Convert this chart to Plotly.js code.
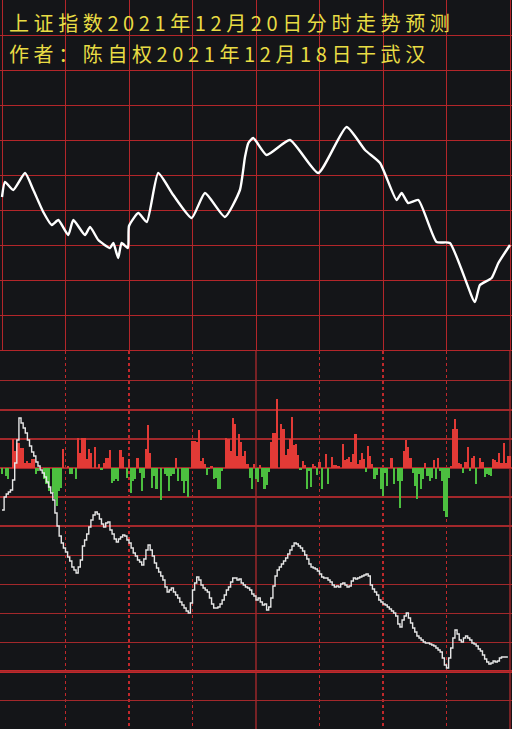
<!DOCTYPE html>
<html><head><meta charset="utf-8">
<script src="https://cdn.plot.ly/plotly-3.0.1.min.js"></script>
<style>html,body{margin:0;padding:0;background:#141518;}#chart{width:512px;height:729px;}</style>
</head><body><div id="chart"></div>
<script>
// ---- text ----
const titleLine1 = "上证指数2021年12月20日分时走势预测";
const titleLine2 = "作者：陈自权2021年12月18日于武汉";

// ---- time axis (trading minutes 0..240) ----
const timeTicks = [0, 30, 60, 90, 120, 150, 180, 210, 240];
const halfHourMarks = [30, 60, 90, 150, 180, 210];

// ---- upper panel: forecast price curve (minute, level) ----
const forecastMinutes = [0, 1.4, 5.3, 10.9, 14.8, 19.5, 23.5, 26.6, 31.3, 33.7, 39.2, 41.6, 45.5, 51, 52.6, 54.9, 56.5, 59.5, 60,
  64.4, 68.4, 73.8, 80.9, 89.6, 95.9, 105.3, 112.4, 114.8, 116.4, 118.7, 125, 136, 149.4, 162.8, 171.5, 178.6,
  186.4, 188.8, 191.9, 196.7, 205.3, 211.6, 223.4, 225.8, 231.3, 234.5, 240];
const forecastValues = [154, 169, 161, 178, 161, 139, 126, 131, 116, 131, 116, 124, 111, 103, 108, 93, 108, 103, 125,
  138, 129, 178, 156, 133, 158, 134, 161, 194, 208, 213, 196, 211, 178, 224, 201, 188,
  151, 158, 148, 151, 109, 108, 49, 66, 73, 88, 106];

// ---- lower panel: cumulative flow line, one value per minute ----
const flowValues = [-42,-29,-26,-24,-22,-12,5,28,50,45,
  40,35,28,22,16,12,6,2,-2,-5,
  -9,-14,-19,-25,-32,-45,-58,-68,-75,-80,
  -84,-89,-93,-99,-102,-105,-99,-92,-78,-72,
  -66,-59,-52,-47,-44,-46,-51,-56,-59,-55,
  -54,-62,-66,-71,-74,-71,-69,-67,-68,-72,
  -75,-80,-85,-88,-92,-94,-97,-91,-82,-77,
  -82,-88,-95,-100,-104,-108,-112,-119,-124,-122,
  -120,-124,-127,-130,-134,-137,-140,-143,-145,-135,
  -122,-115,-109,-112,-117,-120,-122,-124,-130,-136,
  -140,-140,-139,-136,-132,-127,-122,-119,-114,-110,
  -110,-112,-111,-115,-117,-119,-120,-122,-126,-128,
  -132,-130,-134,-137,-136,-142,-139,-130,-118,-108,
  -102,-99,-96,-93,-90,-86,-82,-78,-75,-76,
  -78,-80,-83,-87,-91,-96,-99,-100,-101,-103,
  -106,-109,-110,-110,-112,-114,-117,-119,-118,-119,
  -116,-115,-117,-119,-118,-113,-110,-111,-110,-109,
  -108,-107,-106,-108,-117,-121,-124,-127,-132,-134,
  -136,-137,-139,-141,-143,-145,-148,-156,-159,-152,
  -148,-145,-150,-155,-160,-164,-168,-170,-172,-174,
  -175,-175,-176,-177,-178,-180,-182,-184,-190,-197,
  -200,-190,-180,-170,-162,-166,-172,-174,-170,-168,
  -170,-172,-175,-176,-178,-181,-183,-187,-191,-194,
  -196,-195,-193,-194,-193,-190,-189,-189,-189,-189];

// ---- lower panel: buy/sell bars (minute, value) ----
const barMinutes = [0,2,3,5,6,7,8,9,10,11,12,13,14,15,16,17,20,21,22,24,25,26,27,28,29,31,32,33,35,36,37,38,39,40,41,42,44,46,47,48,49,50,51,52,53,54,55,56,57,59,
  60,61,62,63,64,65,66,67,68,69,70,71,72,73,75,77,78,79,80,81,82,83,85,86,87,88,90,91,92,93,94,95,96,97,98,99,100,101,102,103,104,106,107,108,109,110,111,112,113,114,115,116,117,118,119,120,
  121,122,123,124,125,126,127,128,129,130,132,133,134,135,136,137,138,139,140,141,142,143,144,145,146,147,148,149,150,151,153,154,156,157,158,159,161,162,163,164,165,166,167,168,169,170,171,172,173,174,175,176,177,179,180,181,
  182,184,185,187,188,189,190,191,192,193,194,195,196,197,198,199,200,201,202,203,204,205,206,207,208,209,210,211,212,213,214,215,216,217,218,219,220,221,222,223,224,226,227,228,229,230,231,232,233,234,235,236,237,238,239,240];
const barValues = [-6,-8,-11,29,17,25,25,20,20,5,7,5,9,9,-6,-3,-11,-16,-23,-25,-31,-38,-23,-20,19,2,-6,-6,-11,30,15,30,30,9,19,15,21,4,-2,5,10,10,18,-15,-13,-11,-13,18,11,-10,
  9,-25,-13,-11,10,-5,-23,-10,19,43,15,-20,-8,-21,-32,-6,-8,-23,-8,-6,10,-13,-13,-25,-13,-29,27,27,26,38,7,10,4,-7,-1,2,-11,-10,-21,-21,-3,30,29,17,50,44,12,34,26,12,17,4,-10,-21,4,-11,
  -14,3,-9,-21,-17,-4,26,35,35,69,44,39,13,19,29,51,23,24,13,-2,7,3,-21,-3,-19,4,2,-7,6,-21,14,-16,11,3,3,2,24,8,9,11,6,14,34,4,8,15,9,-4,22,12,4,-11,-7,-21,-28,-5,
  -18,10,-16,-13,-40,-13,17,28,21,10,-5,-18,-31,-6,-21,-11,5,-8,-13,-10,8,-11,10,-3,-13,-43,-49,-10,2,39,49,39,5,4,-5,6,21,-3,10,12,-16,10,6,-9,-6,-7,-8,9,8,6,15,5,25,5,12,12];

// ---- scale / style ----
const bg = '#141518';
const gridRed = '#b3262a';
const gridRedDim = '#a3282b';
const titleColor = '#e8dc44';
const titleFont = '"Noto Sans CJK SC", sans-serif';
const topStep = 35.1, lowStep = 29.08;
const topTicks = Array.from({length: 11}, (_, k) => k * topStep);
const lowTicks = Array.from({length: 14}, (_, k) => (k - 9) * lowStep);
const flowMinutes = flowValues.map((_, i) => i);
const barColors = barValues.map(v => v >= 0 ? '#e23a36' : '#4cbf3f');
const splitFrac = 378 / 729;
const xr = [-2 / 2.1167, 240 + 2 / 2.1167];

const traces = [
  {x: forecastMinutes, y: forecastValues, type: 'scatter', mode: 'lines', xaxis: 'x', yaxis: 'y',
   line: {color: '#ffffff', width: 2.4, shape: 'spline', smoothing: 0.5}, hoverinfo: 'skip'},
  {x: barMinutes, y: barValues, type: 'bar', xaxis: 'x2', yaxis: 'y2', width: 1.0,
   marker: {color: barColors, line: {width: 0}}, hoverinfo: 'skip'},
  {x: flowMinutes, y: flowValues, type: 'scatter', mode: 'lines', xaxis: 'x2', yaxis: 'y2',
   line: {color: '#e6e6e6', width: 1.4, shape: 'hv'}, hoverinfo: 'skip'}
];

const layout = {
  width: 512, height: 729,
  margin: {l: 0, r: 0, t: 0, b: 0},
  paper_bgcolor: bg, plot_bgcolor: bg,
  showlegend: false,
  bargap: 0,
  title: {text: titleLine1, x: 9 / 512, xanchor: 'left', xref: 'container',
          y: 1 - 24 / 729, yanchor: 'middle', yref: 'container',
          font: {family: titleFont, size: 20, color: titleColor}},
  annotations: [
    {text: titleLine2, xref: 'paper', yref: 'paper', x: 7 / 512, y: 1 - 53 / 729,
     xanchor: 'left', yanchor: 'middle', align: 'left', showarrow: false,
     font: {family: titleFont, size: 20, color: titleColor}}
  ],
  xaxis: {domain: [0, 1], range: xr, anchor: 'y', tickmode: 'array', tickvals: timeTicks,
          showgrid: true, gridcolor: gridRed, gridwidth: 1, zeroline: false, showline: false,
          showticklabels: false, ticks: '', fixedrange: true},
  yaxis: {domain: [splitFrac, 1], range: [0, 351], anchor: 'x', tickmode: 'array', tickvals: topTicks,
          showgrid: true, gridcolor: gridRed, gridwidth: 1, zeroline: false, showline: false,
          showticklabels: false, ticks: '', fixedrange: true},
  xaxis2: {domain: [0, 1], range: xr, anchor: 'y2', tickmode: 'array', tickvals: halfHourMarks,
           showgrid: true, gridcolor: '#c0282b', gridwidth: 1.6, griddash: 'dot', zeroline: false,
           showline: false, showticklabels: false, ticks: '', fixedrange: true},
  yaxis2: {domain: [0, splitFrac], range: [-261, 117], anchor: 'x2', tickmode: 'array', tickvals: lowTicks,
           showgrid: true, gridcolor: gridRedDim, gridwidth: 1.4, zeroline: false, showline: false,
           showticklabels: false, ticks: '', fixedrange: true},
  shapes: [
    {type: 'line', layer: 'below', xref: 'x2', yref: 'y2 domain', x0: 120, x1: 120, y0: 0, y1: 1,
     line: {color: gridRedDim, width: 1.4}},
    {type: 'line', layer: 'below', xref: 'x2', yref: 'y2 domain', x0: 240, x1: 240, y0: 0, y1: 1,
     line: {color: gridRedDim, width: 1.4}},
    {type: 'line', layer: 'below', xref: 'x2 domain', yref: 'y2', x0: 0, x1: 1, y0: -7 * lowStep, y1: -7 * lowStep,
     line: {color: '#c0282b', width: 3}},
    {type: 'line', layer: 'below', xref: 'x domain', yref: 'y', x0: 0, x1: 1, y0: 0, y1: 0,
     line: {color: '#b3262a', width: 2}}
  ]
};

Plotly.newPlot('chart', traces, layout, {staticPlot: true, displayModeBar: false}).then(() => {
  // widen character pitch of the two heading lines, as in the reference
  document.querySelectorAll('.gtitle, .annotation-text').forEach(el => {
    el.style.letterSpacing = '4.6px';
  });
});
</script>
</body></html>
